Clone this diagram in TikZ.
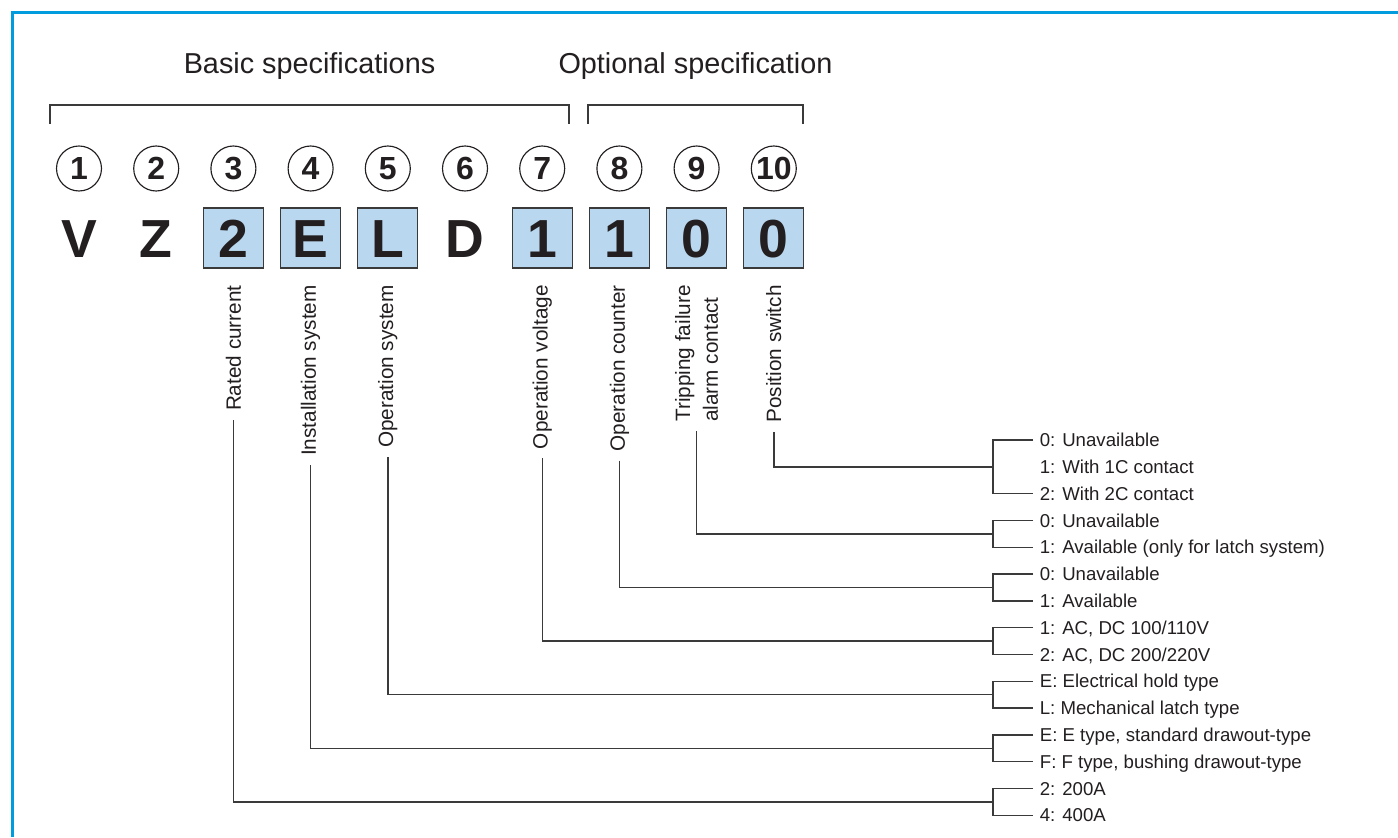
\documentclass[tikz,border=0pt]{standalone}
\usepackage{fontspec}
\setmainfont{Liberation Sans}
\usetikzlibrary{positioning}
\definecolor{inkblack}{HTML}{231F20}
\definecolor{leadgray}{HTML}{3A3A3A}
\definecolor{codeblue}{HTML}{B9D8EF}
\definecolor{framecyan}{HTML}{009CDE}

\begin{document}
\begin{tikzpicture}[x=0.2mm, y=-0.2mm,
    every node/.style={text=inkblack},
    title/.style={font=\fontsize{16.4}{19}\selectfont},
    num/.style={circle, draw=inkblack, line width=0.65pt,
      minimum size=9mm, inner sep=0pt,
      font=\fontsize{18.2}{20}\selectfont\bfseries},
    code/.style={minimum size=12mm, inner sep=0pt,
      text height=7.7mm, text depth=0pt,
      font=\fontsize{30.5}{34}\selectfont\bfseries},
    codebox/.style={code, draw=leadgray, fill=codeblue, line width=0.6pt},
    field/.style={rotate=90, anchor=east, inner sep=0pt, align=left,
      font=\fontsize{11.8}{15.9}\selectfont},
    choice/.style={anchor=west, inner xsep=1.3mm, inner ysep=0pt,
      text height=2.66mm, text depth=0pt,
      font=\fontsize{10.6}{12}\selectfont},
    lead/.style={draw=leadgray, line width=0.8pt},
    fieldlead/.style={lead, shorten <=1.8mm},
]
\useasboundingbox (0,0) rectangle (1398,837);
\draw[framecyan, line width=0.6mm] (12,837) |- (1398,13);

% group headings
\node[title] (basic) at (309.5,66.5) {Basic specifications};
\node[title] (optional) at (695.5,66.5) {Optional specification};
\draw[lead] (50,124) |- (569,105) -- (569,124);
\draw[lead] (588,124) |- (803,105) -- (803,124);

% digit positions
\node[num] (n1) at (79,168.5) {1};
\node[num] (n2) at (156.2,168.5) {2};
\node[num] (n3) at (233.4,168.5) {3};
\node[num] (n4) at (310.6,168.5) {4};
\node[num] (n5) at (387.8,168.5) {5};
\node[num] (n6) at (465,168.5) {6};
\node[num] (n7) at (542.2,168.5) {7};
\node[num] (n8) at (619.4,168.5) {8};
\node[num] (n9) at (696.6,168.5) {9};
\node[num] (n10) at (773.8,168.5) {10};

% type code
\node[code] (c1) at (79,238) {V};
\node[code] (c2) at (156.2,238) {Z};
\node[codebox] (c3) at (233.4,238) {2};
\node[codebox] (c4) at (310.6,238) {E};
\node[codebox] (c5) at (387.8,238) {L};
\node[code] (c6) at (465,238) {D};
\node[codebox] (c7) at (542.2,238) {1};
\node[codebox] (c8) at (619.4,238) {1};
\node[codebox] (c9) at (696.6,238) {0};
\node[codebox] (c10) at (773.8,238) {0};

% field names
\node[field] (rated) at (233.4,285) {Rated current};
\node[field] (install) at (310.6,285) {Installation system};
\node[field] (opsys) at (387.8,285) {Operation system};
\node[field] (opvolt) at (542.2,285) {Operation voltage};
\node[field] (counter) at (619.4,285) {Operation counter};
\node[field] (alarm) at (696.6,285) {Tripping failure\\alarm contact};
\node[field] (posswitch) at (773.8,285) {Position switch};

% choices
\node[choice] (pos0) at (1033,440) {0: Unavailable};
\node[choice] (pos1) at (1033,466.8) {1: With 1C contact};
\node[choice] (pos2) at (1033,493.6) {2: With 2C contact};
\node[choice] (alarm0) at (1033,520.4) {0: Unavailable};
\node[choice] (alarm1) at (1033,547.2) {1: Available (only for latch system)};
\node[choice] (count0) at (1033,574) {0: Unavailable};
\node[choice] (count1) at (1033,600.8) {1: Available};
\node[choice] (volt1) at (1033,627.6) {1: AC, DC 100/110V};
\node[choice] (volt2) at (1033,654.4) {2: AC, DC 200/220V};
\node[choice] (opsysE) at (1033,681.2) {E: Electrical hold type};
\node[choice] (opsysL) at (1033,708) {L: Mechanical latch type};
\node[choice] (instE) at (1033,734.8) {E: E type, standard drawout-type};
\node[choice] (instF) at (1033,761.6) {F: F type, bushing drawout-type};
\node[choice] (rated2) at (1033,788.4) {2: 200A};
\node[choice] (rated4) at (1033,815.2) {4: 400A};

\coordinate (bpos) at (993,466.8);
\coordinate (balarm) at (993,533.8);
\coordinate (bcount) at (993,587.4);
\coordinate (bvolt) at (993,641);
\coordinate (bopsys) at (993,694.6);
\coordinate (binst) at (993,748.2);
\coordinate (brated) at (993,801.8);

% leaders from field names to their choices
\draw[fieldlead] (posswitch.west) |- (bpos);
\draw[lead] (pos0.west) -| (bpos) |- (pos2.west);
\draw[fieldlead] (alarm.west) |- (balarm);
\draw[lead] (alarm0.west) -| (balarm) |- (alarm1.west);
\draw[fieldlead] (counter.west) |- (bcount);
\draw[lead] (count0.west) -| (bcount) |- (count1.west);
\draw[fieldlead] (opvolt.west) |- (bvolt);
\draw[lead] (volt1.west) -| (bvolt) |- (volt2.west);
\draw[fieldlead] (opsys.west) |- (bopsys);
\draw[lead] (opsysE.west) -| (bopsys) |- (opsysL.west);
\draw[fieldlead] (install.west) |- (binst);
\draw[lead] (instE.west) -| (binst) |- (instF.west);
\draw[fieldlead] (rated.west) |- (brated);
\draw[lead] (rated2.west) -| (brated) |- (rated4.west);
\end{tikzpicture}
\end{document}
